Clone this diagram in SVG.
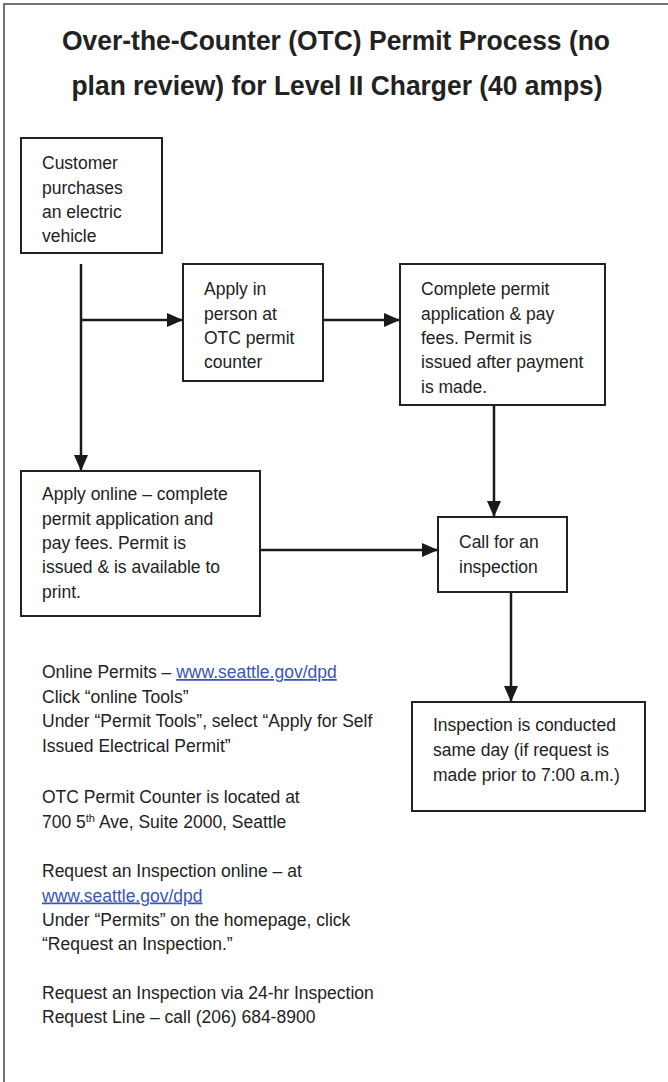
<svg xmlns="http://www.w3.org/2000/svg" width="668" height="1082" viewBox="0 0 668 1082">
<style>
.t{font-family:"Liberation Sans",Arial,sans-serif;font-size:17.5px;fill:#222}
.title{font-family:"Liberation Sans",Arial,sans-serif;font-size:27px;font-weight:bold;fill:#222;text-anchor:middle}
.box{fill:#fff;stroke:#222;stroke-width:2}
.c{stroke:#1a1a1a;stroke-width:2.5;fill:none;marker-end:url(#arr)}
.link{fill:#3a55b4;text-decoration:underline}
</style>
<defs>
<marker id="arr" markerUnits="userSpaceOnUse" markerWidth="16" markerHeight="14" refX="16" refY="7" orient="auto">
<path d="M0,0 L16,7 L0,14 z" fill="#1a1a1a"/>
</marker>
</defs>
<rect width="668" height="1082" fill="#fff"/>
<path d="M4,1082 L4,4 L668,4" fill="none" stroke="#444" stroke-width="1.5"/>
<g id="title">
<text class="title" x="336" y="50" textLength="548" lengthAdjust="spacingAndGlyphs">Over-the-Counter (OTC) Permit Process (no</text>
<text class="title" x="337" y="95" textLength="531" lengthAdjust="spacingAndGlyphs">plan review) for Level II Charger (40 amps)</text>
</g>
<g id="connectors">
<line class="c" x1="81" y1="264" x2="81" y2="471"/>
<line class="c" x1="81" y1="320" x2="183" y2="320"/>
<line class="c" x1="323" y1="320" x2="400" y2="320"/>
<line class="c" x1="494" y1="405" x2="494" y2="517"/>
<line class="c" x1="260" y1="550" x2="438" y2="550"/>
<line class="c" x1="511" y1="592" x2="511" y2="702"/>
</g>
<g id="customer">
<rect class="box" x="21" y="138" width="141" height="115"/>
<text class="t" x="42" y="169">Customer</text>
<text class="t" x="42" y="193.5">purchases</text>
<text class="t" x="42" y="217.5">an electric</text>
<text class="t" x="42" y="242">vehicle</text>
</g>
<g id="apply-person">
<rect class="box" x="183" y="264" width="140" height="117"/>
<text class="t" x="204" y="295">Apply in</text>
<text class="t" x="204" y="319.5">person at</text>
<text class="t" x="204" y="344">OTC permit</text>
<text class="t" x="204" y="368">counter</text>
</g>
<g id="complete-permit">
<rect class="box" x="400" y="264" width="205" height="141"/>
<text class="t" x="421" y="295">Complete permit</text>
<text class="t" x="421" y="319.5">application &amp; pay</text>
<text class="t" x="421" y="344">fees. Permit is</text>
<text class="t" x="421" y="368">issued after payment</text>
<text class="t" x="421" y="392.5">is made.</text>
</g>
<g id="apply-online">
<rect class="box" x="21" y="471" width="239" height="145"/>
<text class="t" x="42" y="500">Apply online – complete</text>
<text class="t" x="42" y="524.5">permit application and</text>
<text class="t" x="42" y="549">pay fees. Permit is</text>
<text class="t" x="42" y="573">issued &amp; is available to</text>
<text class="t" x="42" y="597.5">print.</text>
</g>
<g id="call-inspection">
<rect class="box" x="438" y="517" width="129" height="75"/>
<text class="t" x="459" y="548">Call for an</text>
<text class="t" x="459" y="572.5">inspection</text>
</g>
<g id="inspection-conducted">
<rect class="box" x="412" y="702" width="233" height="109"/>
<text class="t" x="433" y="731">Inspection is conducted</text>
<text class="t" x="433" y="756">same day (if request is</text>
<text class="t" x="433" y="780.5">made prior to 7:00 a.m.)</text>
</g>
<g id="notes">
<text class="t" x="42" y="678">Online Permits – <tspan class="link">www.seattle.gov/dpd</tspan></text>
<text class="t" x="42" y="702.5">Click “online Tools”</text>
<text class="t" x="42" y="727">Under “Permit Tools”, select “Apply for Self</text>
<text class="t" x="42" y="751.5">Issued Electrical Permit”</text>
<text class="t" x="42" y="803">OTC Permit Counter is located at</text>
<text class="t" x="42" y="827.5">700 5<tspan font-size="11" dy="-6">th</tspan><tspan dy="6"> Ave, Suite 2000, Seattle</tspan></text>
<text class="t" x="42" y="877">Request an Inspection online – at</text>
<text class="t" x="42" y="901.5"><tspan class="link">www.seattle.gov/dpd</tspan></text>
<text class="t" x="42" y="925.5">Under “Permits” on the homepage, click</text>
<text class="t" x="42" y="950">“Request an Inspection.”</text>
<text class="t" x="42" y="998.5">Request an Inspection via 24-hr Inspection</text>
<text class="t" x="42" y="1023">Request Line – call (206) 684-8900</text>
</g>
</svg>
